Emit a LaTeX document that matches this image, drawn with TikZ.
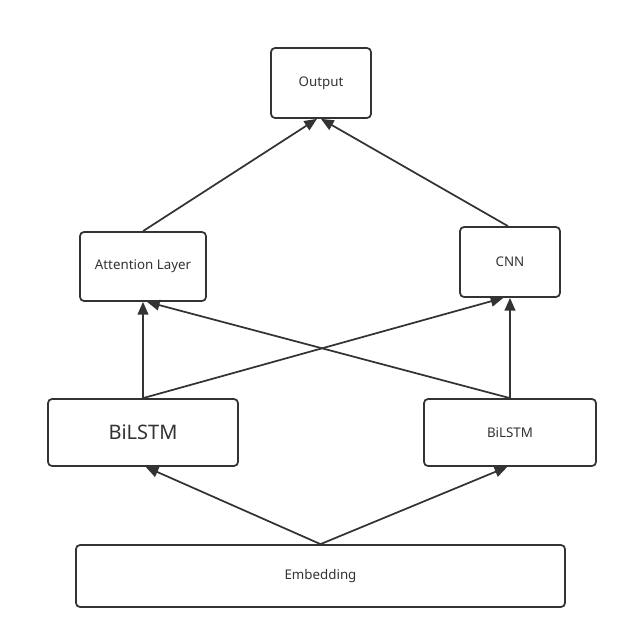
\documentclass[tikz,border=0pt]{standalone}
\usepackage{fontspec}
\setmainfont{Noto Sans}
\usepackage{tikz}
\usetikzlibrary{arrows.meta,positioning}
\definecolor{mygray}{RGB}{51,51,51}

\begin{document}
\begin{tikzpicture}[x=0.75pt, y=-0.75pt,
    box/.style={rectangle, rounded corners=3pt, draw=mygray, line width=1.3pt,
                fill=white, align=center, text=mygray, font=\fontsize{10}{12}\selectfont, inner sep=0pt},
    arr/.style={-{Triangle[length=9.5pt, width=8pt]}, mygray, line width=1.3pt}]
\useasboundingbox (0,0) rectangle (627,639);
\node[box, minimum width=75pt, minimum height=52.5pt] (out) at (321,83) {Output};
\node[box, minimum width=94.5pt, minimum height=51.75pt] (att) at (143,266.5) {Attention Layer};
\node[box, minimum width=75pt, minimum height=52.5pt] (cnn) at (510,262) {CNN};
\node[box, minimum width=142.5pt, minimum height=50.25pt, font=\fontsize{15}{18}\selectfont] (lstmA) at (143,432.5) {BiLSTM};
\node[box, minimum width=129pt, minimum height=50.25pt] (lstmB) at (510,432.5) {BiLSTM};
\node[box, minimum width=366.75pt, minimum height=46.5pt] (emb) at (320.5,576) {Embedding};
% upper layer
\draw[arr] (att.north) -- ([xshift=-3pt]out.south);
\draw[arr] ([xshift=-1.5pt]cnn.north) -- (out.south);
% middle layer
\draw[arr] (lstmA.north) -- (att.south);
\draw[arr] (lstmA.north) -- ([xshift=-5pt]cnn.south);
\draw[arr] (lstmB.north) -- (cnn.south);
\draw[arr] (lstmB.north) -- ([xshift=3pt]att.south);
% lower layer
\draw[arr] (emb.north) -- ([xshift=2pt]lstmA.south);
\draw[arr] (emb.north) -- ([xshift=-2pt]lstmB.south);
\end{tikzpicture}
\end{document}
